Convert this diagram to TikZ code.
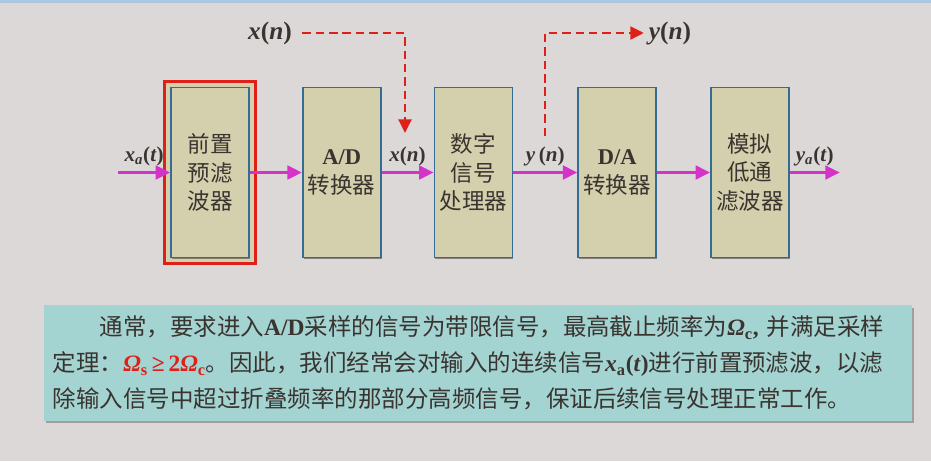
\documentclass[tikz,border=0pt]{standalone}
\usepackage{fontspec}
\setmainfont{Liberation Serif}
\newfontfamily\cjk{Noto Sans CJK SC}
\usetikzlibrary{positioning, calc, arrows.meta, shadows, backgrounds, fit}

\definecolor{slidebg}{RGB}{220,216,216}
\definecolor{stripblue}{RGB}{172,200,224}
\definecolor{blockfill}{RGB}{212,207,172}
\definecolor{blockedge}{RGB}{52,108,148}
\definecolor{sigline}{RGB}{212,50,200}
\definecolor{tapred}{RGB}{222,32,24}
\definecolor{notefill}{RGB}{164,212,210}
\definecolor{inkgray}{RGB}{58,52,48}

\newcommand{\rmb}[1]{{\rmfamily\bfseries #1}}

\begin{document}
\begin{tikzpicture}[x=0.025cm, y=-0.025cm,
    blockbox/.style={draw=blockedge, line width=1.2pt, fill=blockfill, minimum width=1.95cm,
        minimum height=4.25cm, align=center, text=inkgray, font=\cjk\fontsize{16}{20}\selectfont,
        drop shadow={shadow xshift=0.7pt, shadow yshift=-0.7pt, fill=black!70, opacity=0.6}},
    hiframe/.style={draw=tapred, line width=2.2pt, fill=blockfill},
    sigarrow/.style={draw=sigline, line width=2pt, -{Triangle[length=3.6mm, width=3.4mm]}},
    taparrow/.style={draw=tapred, line width=2pt, dash pattern=on 6pt off 3.5pt,
        -{Triangle[length=3.4mm, width=3.2mm]}},
    siglabel/.style={font=\fontsize{15}{18}\selectfont\bfseries, text=inkgray},
    toplabel/.style={font=\fontsize{18}{21}\selectfont\bfseries, text=inkgray},
    notebox/.style={fill=notefill, minimum width=21.7cm, minimum height=2.875cm, text width=21.25cm,
        inner xsep=0.225cm, align=left, text=inkgray, font=\cjk\fontsize{16.7}{25.5}\selectfont,
        drop shadow={shadow xshift=1.5pt, shadow yshift=-1.5pt, fill=black!60, opacity=0.5}}
]
\useasboundingbox (0,0) rectangle (931,461);
\begin{scope}[on background layer]
\fill[slidebg] (0,0) rectangle (931,461);
\fill[stripblue] (0,0) rectangle (931,3);
\end{scope}

% Blocks of the chain
\node[blockbox] (pre) at (210,172.5) {前置\\预滤\\波器};
\node[blockbox, right=1.3cm of pre] (ad) {\rmb{A/D}\\转换器};
\node[blockbox, right=1.3cm of ad] (dsp) {数字\\信号\\处理器};
\node[blockbox, right=1.6cm of dsp] (da) {\rmb{D/A}\\转换器};
\node[blockbox, right=1.325cm of da] (lpf) {模拟\\低通\\滤波器};
% Red frame round the prefilter
\begin{scope}[on background layer]
\node[hiframe, fit=(pre), inner sep=3.8pt] (hl) {};
\end{scope}

% Signal path
\coordinate[left=1.3cm of pre] (xin);
\coordinate[right=1.25cm of lpf] (yout);
\draw[sigarrow] (xin) -- (pre) node[midway, above, siglabel] {\textit{x}\textsubscript{\textit{a}}(\textit{t})};
\draw[sigarrow] (pre) -- (ad);
\draw[sigarrow] (ad) -- (dsp) node[midway, above, siglabel] {\textit{x}(\textit{n})};
\draw[sigarrow] (dsp) -- (da) node[midway, above, siglabel] {\textit{y}\,(\textit{n})};
\draw[sigarrow] (da) -- (lpf);
\draw[sigarrow] (lpf) -- (yout) node[midway, above, siglabel] {\textit{y}\textsubscript{\textit{a}}(\textit{t})};

% Dashed taps
\node[toplabel] (xnlbl) at (270,33) {\textit{x}(\textit{n})};
\coordinate (xtip) at (405,133);
\draw[taparrow] ([xshift=4pt]xnlbl.east) -| (xtip);
\node[toplabel] (ynlbl) at (670,33) {\textit{y}(\textit{n})};
\coordinate (ytap) at (545,136);
\draw[taparrow] (ytap) |- (ynlbl.west);

% Note
\node[notebox] (note) at (478,363) {\hspace*{2em}通常，要求进入\rmb{A/D}采样的信号为带限信号，最高截止频率为\rmb{\textit{Ω}\textsubscript{c},}~并满足采样\\
定理：{\color{tapred}\rmb{\textit{Ω}\textsubscript{s}\,≥\,2\textit{Ω}\textsubscript{c}}}。因此，我们经常会对输入的连续信号\rmb{\textit{x}\textsubscript{a}(\textit{t})}进行前置预滤波，以滤\\
除输入信号中超过折叠频率的那部分高频信号，保证后续信号处理正常工作。};
\end{tikzpicture}
\end{document}
